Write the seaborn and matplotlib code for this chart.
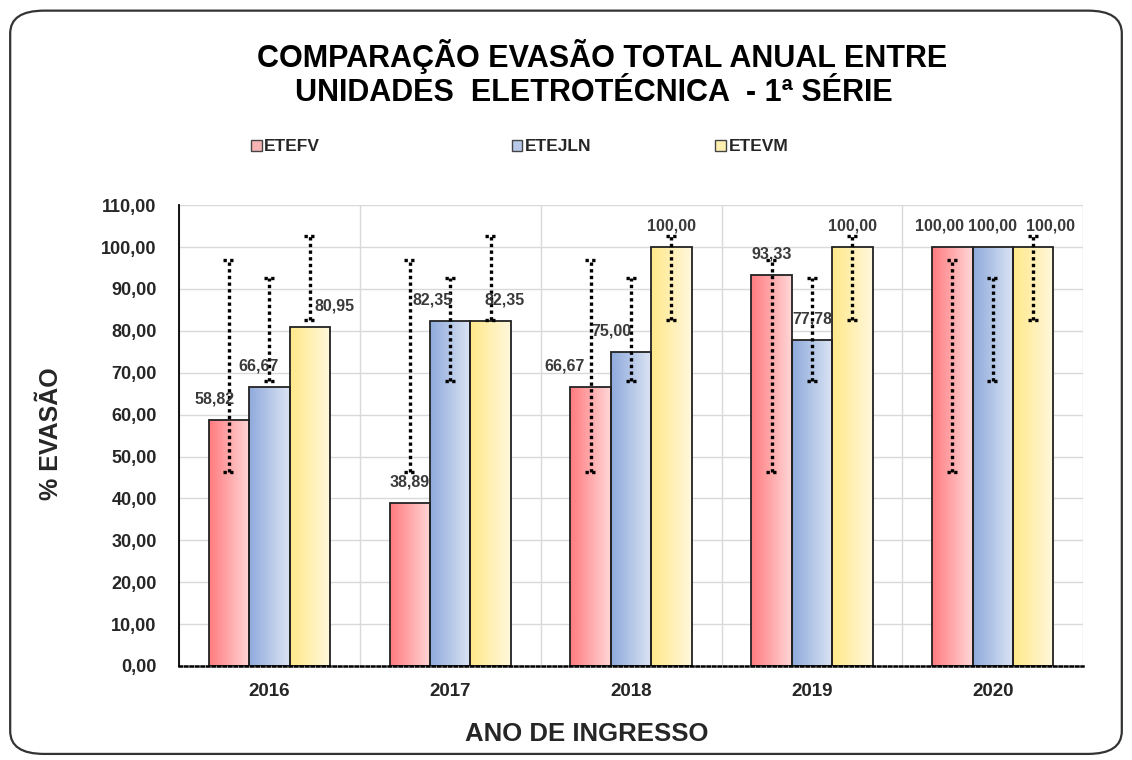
import numpy as np
import pandas as pd
import seaborn as sns
import matplotlib.pyplot as plt
from matplotlib.colors import LinearSegmentedColormap
from matplotlib.patches import FancyBboxPatch, Patch

# dados
anos = ["2016", "2017", "2018", "2019", "2020"]
unidades = ["ETEFV", "ETEJLN", "ETEVM"]
etefv = [58.82, 38.89, 66.67, 93.33, 100.00]
etejln = [66.67, 82.35, 75.00, 77.78, 100.00]
etevm = [80.95, 82.35, 100.00, 100.00, 100.00]
# barras de erro (mesmas em todos os anos)
err_low = [46.3, 68.0, 82.6]
err_high = [96.8, 92.7, 102.7]

df = pd.DataFrame({
    "ano": anos * 3,
    "unidade": [u for u in unidades for _ in anos],
    "evasao": etefv + etejln + etevm,
})

sns.set_style("white")
plt.rcParams["font.family"] = ["Liberation Sans", "DejaVu Sans"]
narrow = ["Liberation Sans Narrow", "Liberation Sans", "DejaVu Sans"]

grad = {
    "ETEFV": ("#ff7c80", "#ffd6d6"),
    "ETEJLN": ("#8faadc", "#dbe4f3"),
    "ETEVM": ("#ffe88a", "#fff8dc"),
}
leg_col = {"ETEFV": "#f6b3b3", "ETEJLN": "#b7c8e8", "ETEVM": "#fff0b0"}

fig = plt.figure(figsize=(11.32, 7.6), dpi=100)
ax = fig.add_axes([0.158, 0.1237, 0.799, 0.6063])

sns.barplot(data=df, x="ano", y="evasao", hue="unidade", palette=leg_col,
            width=0.67, gap=0, edgecolor="#222222", linewidth=1.3,
            legend=False, ax=ax)

# gradiente horizontal em cada barra
for cont, u in zip(ax.containers, unidades):
    cmap = LinearSegmentedColormap.from_list(u, list(grad[u]))
    for p in cont.patches:
        x, y = p.get_x(), p.get_y()
        w, h = p.get_width(), p.get_height()
        img = ax.imshow(np.linspace(0, 1, 64).reshape(1, -1), cmap=cmap,
                        extent=[x, x + w, y, y + h], aspect="auto",
                        zorder=2, interpolation="bilinear")
        img.set_clip_path(p)
        p.set_facecolor("none")
        p.set_zorder(3)

ax.set_ylim(0, 110)
ax.set_xlim(-0.5, len(anos) - 0.5)

# barras de erro pontilhadas
for i, cont in enumerate(ax.containers):
    for p in cont.patches:
        cx = p.get_x() + p.get_width() / 2
        ax.vlines(cx, err_low[i], err_high[i], colors="black",
                  linestyles=(0, (1, 1)), linewidth=2.4, zorder=5)
        ax.hlines([err_low[i], err_high[i]], cx - 0.03, cx + 0.03,
                  colors="black", linestyles=(0, (1, 1)), linewidth=2.4,
                  zorder=5)

# rótulos de dados (deslocamentos em pixels, como no original)
nudges = [[-14, 0, -26, 0, -13], [-11, -18, -20, 0, 0], [25, 14, 0, 0, 17]]
for i, cont in enumerate(ax.containers):
    for j, p in enumerate(cont.patches):
        cx = p.get_x() + p.get_width() / 2
        v = p.get_height()
        ax.annotate(f"{v:.2f}".replace(".", ","), (cx, v),
                    xytext=(nudges[i][j] * 0.72, 15), textcoords="offset points",
                    ha="center", va="center", fontsize=11.5, fontweight="bold",
                    color="#3a3a3a", family=narrow, zorder=6)

# grade
ax.set_yticks(np.arange(0, 111, 10))
ax.set_yticklabels([f"{t:.2f}".replace(".", ",") for t in np.arange(0, 111, 10)],
                   fontsize=13, fontweight="bold")
ax.yaxis.grid(True, color="#d9d9d9", linewidth=1, zorder=0)
for b in np.arange(-0.5, len(anos), 1):
    ax.axvline(b, color="#d9d9d9", linewidth=1, zorder=0)
ax.set_axisbelow(True)

for s in ["top", "right"]:
    ax.spines[s].set_visible(False)
ax.spines["left"].set_color("black")
ax.spines["left"].set_linewidth(1.3)
ax.spines["bottom"].set_linestyle((0, (1, 1.2)))
ax.spines["bottom"].set_linewidth(1.8)
ax.spines["bottom"].set_color("black")
ax.spines["bottom"].set_zorder(6)

ax.tick_params(axis="y", direction="out", length=5, width=1.2, color="black",
               pad=11)
ax.tick_params(axis="x", length=0, pad=12)
for lab in ax.get_xticklabels():
    lab.set_fontsize(13.5)
    lab.set_fontweight("bold")

ax.set_xlabel("ANO DE INGRESSO", fontsize=18.5, fontweight="bold")
ax.xaxis.set_label_coords(0.451, -0.122)
ax.set_ylabel("% EVASÃO", fontsize=18, fontweight="bold")
ax.yaxis.set_label_coords(-0.128, 0.505)

# título e legenda
fig.text(0.532, 0.925, "COMPARAÇÃO EVASÃO TOTAL ANUAL ENTRE", ha="center",
         va="center", fontsize=22, fontweight="bold", family=narrow,
         color="black")
fig.text(0.525, 0.878, "UNIDADES  ELETROTÉCNICA  - 1ª SÉRIE", ha="center",
         va="center", fontsize=22, fontweight="bold", family=narrow,
         color="black")

leg_x = [0.222, 0.452, 0.632]
for u, lx in zip(unidades, leg_x):
    h = Patch(facecolor=leg_col[u], edgecolor="#444444", linewidth=1)
    lg = fig.legend([h], [u], loc="center left", bbox_to_anchor=(lx, 0.807),
                    frameon=False, handlelength=0.6, handleheight=0.6,
                    handletextpad=0.15, borderpad=0, borderaxespad=0,
                    prop={"family": narrow, "weight": "bold", "size": 12.5})

# moldura arredondada
frame = FancyBboxPatch((0.009, 0.008), 0.982, 0.978,
                       boxstyle="round,pad=0,rounding_size=0.03",
                       transform=fig.transFigure, facecolor="none",
                       edgecolor="#333333", linewidth=1.6)
fig.patches.append(frame)

fig.savefig("out.png", dpi=100)
